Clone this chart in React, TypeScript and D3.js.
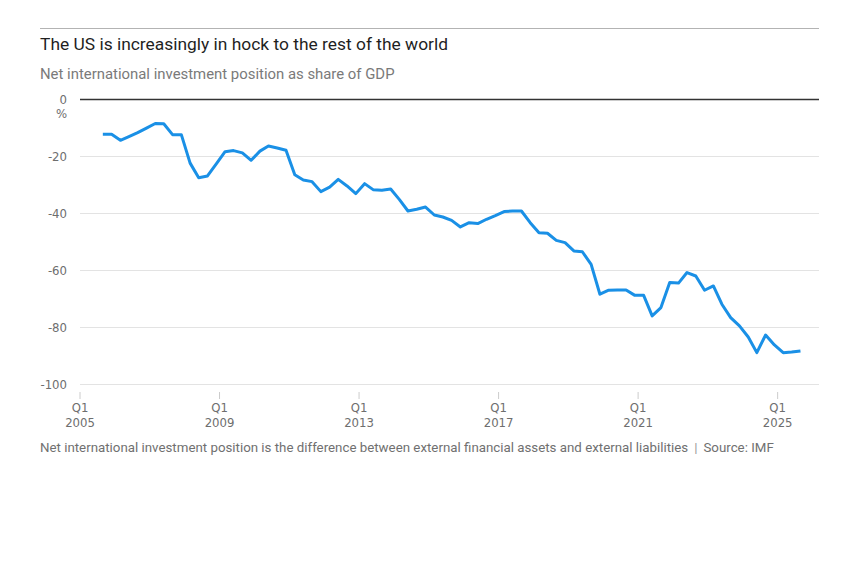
import React, { useEffect, useRef } from 'react'
import * as d3 from 'd3'

// quarterly net international investment position, % of GDP, 2005 Q3 to 2025 Q3
const startYear = 2005
const startQuarter = 3
const niipValues = [
  -12.4, -12.4, -14.5, -13.2, -11.8, -10.2, -8.6, -8.7, -12.5, -12.5,
  -22.5, -27.6, -27.0, -22.8, -18.5, -18.1, -18.9, -21.5, -18.3, -16.5,
  -17.2, -18.0, -26.6, -28.4, -29.0, -32.5, -30.9, -28.2, -30.5, -33.2,
  -29.7, -31.8, -32.0, -31.6, -35.3, -39.3, -38.7, -37.9, -40.7, -41.4,
  -42.6, -44.9, -43.4, -43.7, -42.2, -40.9, -39.5, -39.3, -39.3, -43.4,
  -46.9, -47.1, -49.6, -50.4, -53.3, -53.6, -58.0, -68.5, -67.1, -67.0,
  -67.0, -68.9, -68.9, -76.1, -73.2, -64.4, -64.6, -60.9, -62.1, -67.1,
  -65.6, -72.0, -76.7, -79.6, -83.5, -89.0, -82.8, -86.3, -89.0, -88.8,
  -88.4,
]
const yTicks = [0, -20, -40, -60, -80, -100]
const xTickYears = [2005, 2009, 2013, 2017, 2021, 2025]

const title = 'The US is increasingly in hock to the rest of the world'
const subtitle = 'Net international investment position as share of GDP'
const footnote =
  'Net international investment position is the difference between external financial assets and external liabilities'
const source = 'Source: IMF'

type Point = { date: Date; value: number }

const points: Point[] = niipValues.map((value, i) => {
  const q = startQuarter - 1 + i
  const year = startYear + Math.floor(q / 4)
  const month = (q % 4) * 3 + 1
  return { date: new Date(year, month, 28), value }
})

const W = 857
const H = 580
const left = 80
const right = 819
const top = 99
const bottom = 384

const sans = "Roboto, 'Liberation Sans', sans-serif"
const narrow = "'DejaVu Sans Condensed', 'DejaVu Sans', sans-serif"

const App = () => {
  const svg = useRef<SVGSVGElement>(null)

  useEffect(() => {
    document.body.style.margin = '0'
    const root = d3.select(svg.current)
    root.selectAll('*').remove()

    const x = d3
      .scaleTime()
      .domain([new Date(2005, 0, 1), new Date(2026, 2, 10)])
      .range([left, right])
    const y = d3.scaleLinear().domain([0, -100]).range([top, bottom])

    // header
    root
      .append('line')
      .attr('x1', 40)
      .attr('x2', right)
      .attr('y1', 28.5)
      .attr('y2', 28.5)
      .attr('stroke', '#b3b3b3')
    root
      .append('text')
      .attr('x', 40)
      .attr('y', 50)
      .attr('font-family', sans)
      .attr('font-size', 17.4)
      .attr('fill', '#1f1f1f')
      .text(title)
    root
      .append('text')
      .attr('x', 40)
      .attr('y', 79)
      .attr('font-family', sans)
      .attr('font-size', 14.9)
      .attr('fill', '#7a7a7a')
      .text(subtitle)

    // y grid + labels
    const grid = root.append('g')
    grid
      .selectAll('line')
      .data(yTicks)
      .enter()
      .append('line')
      .attr('x1', left)
      .attr('x2', right)
      .attr('y1', d => Math.round(y(d)) + 0.5)
      .attr('y2', d => Math.round(y(d)) + 0.5)
      .attr('stroke', d => (d === 0 ? '#333' : '#e3e3e3'))
      .attr('stroke-width', d => (d === 0 ? 1.3 : 1))
    grid
      .selectAll('text')
      .data(yTicks)
      .enter()
      .append('text')
      .attr('x', 67)
      .attr('y', d => y(d) + 5)
      .attr('text-anchor', 'end')
      .attr('font-family', narrow)
      .attr('font-stretch', 'condensed')
      .attr('font-size', 13)
      .attr('fill', '#6e6e6e')
      .text(d => (d === 0 ? '0' : `-${Math.abs(d)}`))
    root
      .append('text')
      .attr('x', 67)
      .attr('y', top + 19)
      .attr('text-anchor', 'end')
      .attr('font-family', narrow)
      .attr('font-stretch', 'condensed')
      .attr('font-size', 13)
      .attr('fill', '#6e6e6e')
      .text('%')

    // x axis
    const xAxis = root.append('g')
    const xt = xAxis
      .selectAll('g')
      .data(xTickYears)
      .enter()
      .append('g')
      .attr('transform', d => `translate(${x(new Date(d, 0, 1))},0)`)
    xt.append('line')
      .attr('y1', bottom + 8)
      .attr('y2', bottom + 15)
      .attr('stroke', '#ccc')
    xt.append('text')
      .attr('y', bottom + 28)
      .attr('text-anchor', 'middle')
      .attr('font-family', narrow)
      .attr('font-stretch', 'condensed')
      .attr('font-size', 13)
      .attr('fill', '#6e6e6e')
      .text('Q1')
    xt.append('text')
      .attr('y', bottom + 43)
      .attr('text-anchor', 'middle')
      .attr('font-family', narrow)
      .attr('font-stretch', 'condensed')
      .attr('font-size', 13)
      .attr('fill', '#6e6e6e')
      .text(d => d)

    // line
    const line = d3
      .line<Point>()
      .x(d => x(d.date))
      .y(d => y(d.value))
    root
      .append('path')
      .datum(points)
      .attr('d', line)
      .attr('fill', 'none')
      .attr('stroke', '#1a90e6')
      .attr('stroke-width', 3)
      .attr('stroke-linejoin', 'round')

    // footer
    const foot = root
      .append('text')
      .attr('x', 40)
      .attr('y', 452)
      .attr('font-family', sans)
      .attr('font-size', 13.3)
      .attr('fill', '#707070')
    foot.append('tspan').text(footnote)
    foot.append('tspan').attr('dx', 6).attr('fill', '#999').text('|')
    foot.append('tspan').attr('dx', 6).text(source)
  }, [])

  return <svg ref={svg} width={W} height={H} style={{ display: 'block', background: '#fff' }} />
}

export default App
